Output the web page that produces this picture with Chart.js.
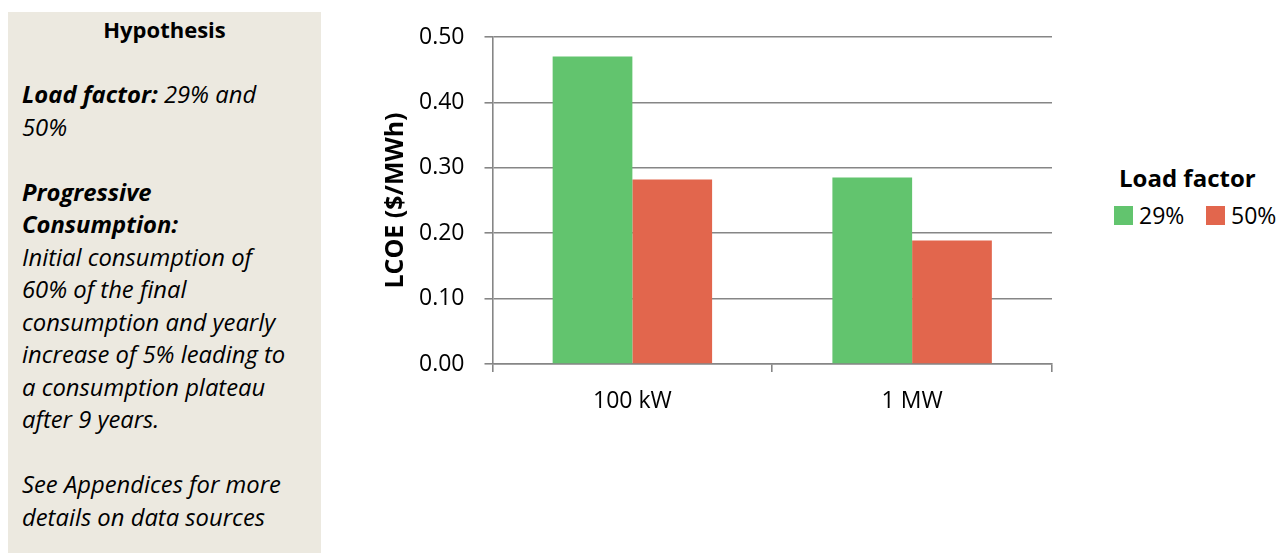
<!DOCTYPE html>
<html>
<head>
<meta charset="utf-8">
<script src="https://cdn.jsdelivr.net/npm/chart.js@4/dist/chart.umd.min.js"></script>
<style>
  html, body { margin: 0; padding: 0; background: #ffffff; width: 1279px; height: 555px; overflow: hidden; }
  body { position: relative; font-family: "Open Sans", sans-serif; color: #000; }
  #panel { position: absolute; left: 8px; top: 12px; width: 313px; height: 541px; background: #ECE9E0; box-sizing: border-box; padding: 1px 0 0 14px; font-size: 23.8px; line-height: 32.5px; white-space: nowrap; }
  #panel .head { text-align: center; font-weight: bold; font-size: 22px; margin: 0 0 32.5px -14px; }
  #panel p { margin: 0 0 32.5px 0; font-style: italic; }
  #panel b { font-weight: bold; }
  #wrap { position: absolute; left: 370px; top: 0px; width: 700px; height: 430px; }
  #legend { position: absolute; left: 0; top: 0; font-family: "Open Sans", sans-serif; }
  #legend .title { position: absolute; left: 1119px; top: 162px; font-weight: bold; font-size: 24px; line-height: 32px; white-space: nowrap; }
  #legend .item { position: absolute; top: 203px; display: flex; align-items: center; font-size: 23px; line-height: 24px; white-space: nowrap; }
  #legend .sw { width: 19px; height: 19px; margin-right: 6px; }
</style>
</head>
<body>
<div id="panel">
  <div class="head">Hypothesis</div>
  <p><b>Load factor:</b> 29% and<br>50%</p>
  <p><b>Progressive<br>Consumption:</b><br>Initial consumption of<br>60% of the final<br>consumption and yearly<br>increase of 5% leading to<br>a consumption plateau<br>after 9 years.</p>
  <p>See Appendices for more<br>details on data sources</p>
</div>
<div id="wrap"><canvas id="c" width="700" height="430"></canvas></div>
<div id="legend"></div>
<script>
const categories = ["100 kW", "1 MW"];
const seriesNames = ["29%", "50%"];
const values29 = [0.470, 0.285];
const values50 = [0.282, 0.189];
const yTicks = [0, 0.1, 0.2, 0.3, 0.4, 0.5];
const colors = ["#62C46E", "#E2664D"];
const axisTitle = "LCOE ($/MWh)";
const legendTitle = "Load factor";

const FONT = "'Open Sans', sans-serif";
const gridColor = "#868686";

const chart = new Chart(document.getElementById("c"), {
  type: "bar",
  data: {
    labels: categories,
    datasets: [
      { label: seriesNames[0], data: values29, backgroundColor: colors[0], categoryPercentage: 0.57, barPercentage: 1.0 },
      { label: seriesNames[1], data: values50, backgroundColor: colors[1], categoryPercentage: 0.57, barPercentage: 1.0 }
    ]
  },
  options: {
    responsive: false,
    animation: false,
    layout: { padding: { top: 37, right: 18, left: 0, bottom: 0 } },
    plugins: { legend: { display: false }, tooltip: { enabled: false } },
    scales: {
      x: {
        offset: true,
        grid: { display: true, drawOnChartArea: false, drawTicks: true, tickLength: 8, color: gridColor, lineWidth: 1.6, offset: true },
        border: { display: true, color: gridColor, width: 1.6 },
        ticks: { color: "#000", font: { family: FONT, size: 23 }, padding: 16 },
        afterFit: (a) => { a.height = 66; }
      },
      y: {
        min: 0, max: 0.5,
        afterBuildTicks: (a) => { a.ticks = yTicks.map(v => ({ value: v })); },
        grid: { color: gridColor, lineWidth: 1.6, tickLength: 8, drawTicks: true },
        border: { display: true, color: gridColor, width: 1.6 },
        ticks: { color: "#000", font: { family: FONT, size: 23 }, padding: 20, callback: (v) => Number(v).toFixed(2) },
        title: { display: true, text: axisTitle, color: "#000", font: { family: FONT, size: 25, weight: "bold" }, padding: { top: 11, bottom: 0 } },
        afterFit: (a) => { a.width = 122.5; }
      }
    }
  }
});

const lg = document.getElementById("legend");
const itemLefts = [1114, 1206];
let html = '<div class="title">' + legendTitle + '</div>';
chart.data.datasets.forEach((ds, i) => {
  html += '<div class="item" style="left:' + itemLefts[i] + 'px"><span class="sw" style="background:' + ds.backgroundColor + '"></span>' + ds.label + '</div>';
});
lg.innerHTML = html;
</script>
</body>
</html>
